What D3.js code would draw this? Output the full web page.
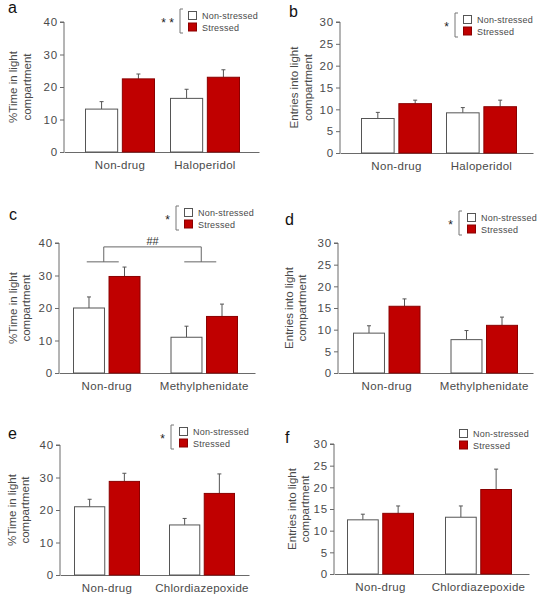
<!DOCTYPE html>
<html>
<head>
<meta charset="utf-8">
<script src="https://cdn.jsdelivr.net/npm/d3@7/dist/d3.min.js"></script>
<style>
html,body{margin:0;padding:0;background:#fff;}
svg{display:block;font-family:"Liberation Sans",Arial,sans-serif;}
</style>
</head>
<body>
<svg id="chart" width="544" height="600"></svg>
<script>
// ---------- DATA ----------
const seriesNames = ["Non-stressed", "Stressed"];

const groupsA = ["Non-drug", "Haloperidol"];
const aNonStressed = [13.2, 16.5];
const aNonStressedSEM = [2.3, 2.8];
const aStressed = [22.5, 23.0];
const aStressedSEM = [1.5, 2.3];

const groupsB = ["Non-drug", "Haloperidol"];
const bNonStressed = [7.9, 9.2];
const bNonStressedSEM = [1.4, 1.2];
const bStressed = [11.3, 10.6];
const bStressedSEM = [0.8, 1.5];

const groupsC = ["Non-drug", "Methylphenidate"];
const cNonStressed = [20.0, 11.0];
const cNonStressedSEM = [3.4, 3.4];
const cStressed = [29.7, 17.4];
const cStressedSEM = [2.9, 3.8];

const groupsD = ["Non-drug", "Methylphenidate"];
const dNonStressed = [9.2, 7.7];
const dNonStressedSEM = [1.7, 2.1];
const dStressed = [15.4, 11.0];
const dStressedSEM = [1.7, 1.9];

const groupsE = ["Non-drug", "Chlordiazepoxide"];
const eNonStressed = [21.0, 15.4];
const eNonStressedSEM = [2.3, 2.0];
const eStressed = [28.8, 25.1];
const eStressedSEM = [2.5, 6.0];

const groupsF = ["Non-drug", "Chlordiazepoxide"];
const fNonStressed = [12.5, 13.1];
const fNonStressedSEM = [1.3, 2.6];
const fStressed = [14.0, 19.5];
const fStressedSEM = [1.7, 4.7];

const ticksTime = [0, 10, 20, 30, 40];
const ticksEntries = [0, 5, 10, 15, 20, 25, 30];
const labelTime = ["%Time in light", "compartment"];
const labelEntries = ["Entries into light", "compartment"];
const starsText = {a: "* *", b: "*", c: "*", d: "*", e: "*", f: ""};
// Drug main-effect annotation in panel c (levels in data units)
const cSigText = "##";
const cSigLevels = [38.8, 34.2];

// ---------- STYLE ----------
const RED = "#c00000", RED_STROKE = "#8a0000";
const AXIS = "#6a6a6a", TEXT = "#4a4a4a";

const svg = d3.select("#chart");

function panel(cfg) {
  const g = svg.append("g");
  const y = d3.scaleLinear().domain([0, d3.max(cfg.ticks)]).range([cfg.bot, cfg.top]);
  const x0 = d3.scaleBand().domain(cfg.groups).range([cfg.barStart, cfg.barEnd])
    .paddingInner(cfg.gap / ((cfg.barEnd - cfg.barStart - cfg.gap) / 2 + cfg.gap)).paddingOuter(0);
  const x1 = d3.scaleBand().domain(seriesNames).range([0, x0.bandwidth()]).paddingInner(0.1);

  // y axis
  const yAxis = d3.axisLeft(y).tickValues(cfg.ticks).tickSize(4).tickPadding(2);
  const ya = g.append("g").attr("transform", `translate(${cfg.ax},0)`).call(yAxis);
  ya.select(".domain").attr("stroke", AXIS).attr("d", `M-4,${cfg.top}H0V${cfg.bot}`);
  ya.selectAll(".tick line").attr("stroke", AXIS);
  ya.selectAll(".tick text").attr("fill", TEXT).style("font-size", "11.5px")
    .style("letter-spacing", "0.8px")
    .style("font-family", "Liberation Sans, Arial, sans-serif");

  // x axis baseline
  const xa = d3.axisBottom(d3.scaleLinear().range([cfg.ax, cfg.xEnd])).tickValues([]).tickSizeOuter(0);
  const xg = g.append("g").attr("transform", `translate(0,${cfg.bot})`).call(xa);
  xg.select(".domain").attr("stroke", AXIS);

  // x labels
  g.selectAll(".xl").data(cfg.groups).enter().append("text")
    .attr("x", d => x0(d) + x0.bandwidth() / 2)
    .attr("y", cfg.bot + 17)
    .attr("text-anchor", "middle").attr("fill", TEXT).style("font-size", "11.5px")
    .style("letter-spacing", "0.3px")
    .text(d => d);

  const rows = [];
  cfg.groups.forEach((grp, i) => {
    rows.push({grp, s: seriesNames[0], v: cfg.ns[i], e: cfg.nsE[i]});
    rows.push({grp, s: seriesNames[1], v: cfg.st[i], e: cfg.stE[i]});
  });

  // error bars
  const eb = g.selectAll(".eb").data(rows).enter().append("g");
  eb.append("line")
    .attr("x1", d => x0(d.grp) + x1(d.s) + x1.bandwidth() / 2)
    .attr("x2", d => x0(d.grp) + x1(d.s) + x1.bandwidth() / 2)
    .attr("y1", d => y(d.v)).attr("y2", d => y(d.v + d.e))
    .attr("stroke", "#555").attr("stroke-width", 1);
  eb.append("line")
    .attr("x1", d => x0(d.grp) + x1(d.s) + x1.bandwidth() / 2 - 2)
    .attr("x2", d => x0(d.grp) + x1(d.s) + x1.bandwidth() / 2 + 2)
    .attr("y1", d => y(d.v + d.e)).attr("y2", d => y(d.v + d.e))
    .attr("stroke", "#555").attr("stroke-width", 1);

  g.selectAll(".bar").data(rows).enter().append("rect")
    .attr("x", d => x0(d.grp) + x1(d.s) + 0.5)
    .attr("width", x1.bandwidth() - 1)
    .attr("y", d => y(d.v))
    .attr("height", d => y(0) - y(d.v))
    .attr("fill", d => d.s === seriesNames[0] ? "#fff" : RED)
    .attr("stroke", d => d.s === seriesNames[0] ? "#555" : RED_STROKE)
    .attr("stroke-width", 1);

  // y label (page x of each line's baseline = tspan y after rotation)
  const yl = g.append("text").attr("transform", `translate(0,${(cfg.top + cfg.bot) / 2}) rotate(-90)`)
    .attr("text-anchor", "middle").attr("fill", TEXT).style("font-size", "11.5px");
  cfg.ylabel.forEach((t, i) => {
    yl.append("tspan").attr("x", 0).attr("y", cfg.ylx[i]).text(t);
  });

  // panel letter
  g.append("text").attr("x", cfg.letterX).attr("y", cfg.letterY)
    .style("font-size", "16px").attr("fill", "#111").text(cfg.letter);

  // legend
  const L = cfg.leg;
  const lg = g.append("g");
  seriesNames.forEach((s, i) => {
    lg.append("rect").attr("x", L.x + 0.5).attr("y", L.y + i * 11.5 + 0.5).attr("width", 8).attr("height", 8)
      .attr("fill", i === 0 ? "#fff" : RED).attr("stroke", i === 0 ? "#555" : RED_STROKE);
    lg.append("text").attr("x", L.x + 14).attr("y", L.y + i * 11.5 + 8)
      .attr("fill", TEXT).style("font-size", "9px").style("letter-spacing", "0.2px").text(s);
  });
  if (cfg.stars) {
    lg.append("path").attr("d", `M${L.x - 5},${L.y - 2}H${L.x - 8}V${L.y + 22}H${L.x - 5}`)
      .attr("fill", "none").attr("stroke", "#777");
    lg.append("text").attr("x", L.x - 14).attr("y", L.y + 16).attr("text-anchor", "end")
      .attr("fill", "#222").style("font-size", "12px").text(cfg.stars);
  }
  return {g, x0, y};
}

panel({letter: "a", letterX: 8, letterY: 13, groups: groupsA, ns: aNonStressed, nsE: aNonStressedSEM, st: aStressed, stE: aStressedSEM,
  ticks: ticksTime, ax: 64, top: 22, bot: 152, xEnd: 259, barStart: 85, barEnd: 240, gap: 15,
  ylabel: labelTime, ylx: [17, 31], leg: {x: 188, y: 11}, stars: starsText.a});

panel({letter: "b", letterX: 289, letterY: 17, groups: groupsB, ns: bNonStressed, nsE: bNonStressedSEM, st: bStressed, stE: bStressedSEM,
  ticks: ticksEntries, ax: 340, top: 22, bot: 153, xEnd: 533, barStart: 361, barEnd: 517, gap: 14,
  ylabel: labelEntries, ylx: [298, 312], leg: {x: 463, y: 15}, stars: starsText.b});

const pc = panel({letter: "c", letterX: 9, letterY: 220, groups: groupsC, ns: cNonStressed, nsE: cNonStressedSEM, st: cStressed, stE: cStressedSEM,
  ticks: ticksTime, ax: 59, top: 243, bot: 373, xEnd: 255, barStart: 73, barEnd: 238, gap: 30,
  ylabel: labelTime, ylx: [17, 30], leg: {x: 184, y: 208}, stars: starsText.c});

panel({letter: "d", letterX: 285, letterY: 225, groups: groupsD, ns: dNonStressed, nsE: dNonStressedSEM, st: dStressed, stE: dStressedSEM,
  ticks: ticksEntries, ax: 338, top: 243, bot: 373, xEnd: 533, barStart: 353, barEnd: 518, gap: 30,
  ylabel: labelEntries, ylx: [293, 306], leg: {x: 467, y: 213}, stars: starsText.d});

panel({letter: "e", letterX: 8, letterY: 439, groups: groupsE, ns: eNonStressed, nsE: eNonStressedSEM, st: eStressed, stE: eStressedSEM,
  ticks: ticksTime, ax: 60, top: 445, bot: 575, xEnd: 249, barStart: 74, barEnd: 235, gap: 29,
  ylabel: labelTime, ylx: [16, 29], leg: {x: 179, y: 427}, stars: starsText.e});

panel({letter: "f", letterX: 285, letterY: 443, groups: groupsF, ns: fNonStressed, nsE: fNonStressedSEM, st: fStressed, stE: fStressedSEM,
  ticks: ticksEntries, ax: 334, top: 444, bot: 574, xEnd: 529, barStart: 347, barEnd: 512, gap: 31,
  ylabel: labelEntries, ylx: [296, 309], leg: {x: 459, y: 429}, stars: starsText.f});

// significance bracket in panel c
{
  const {g, x0, y} = pc;
  const cx = groupsC.map(d => x0(d) + x0.bandwidth() / 2 - 3);
  const hi = y(cSigLevels[0]), lo = y(cSigLevels[1]);
  g.append("path").attr("d", `M${cx[0]},${lo}V${hi}H${cx[1]}V${lo}`).attr("fill", "none").attr("stroke", "#666");
  cx.forEach(c => g.append("line").attr("x1", c - 17).attr("x2", c + 15).attr("y1", lo).attr("y2", lo).attr("stroke", "#666"));
  g.append("text").attr("x", (cx[0] + cx[1]) / 2).attr("y", hi - 2).attr("text-anchor", "middle")
    .attr("fill", "#333").style("font-size", "11px").text(cSigText);
}
</script>
</body>
</html>
